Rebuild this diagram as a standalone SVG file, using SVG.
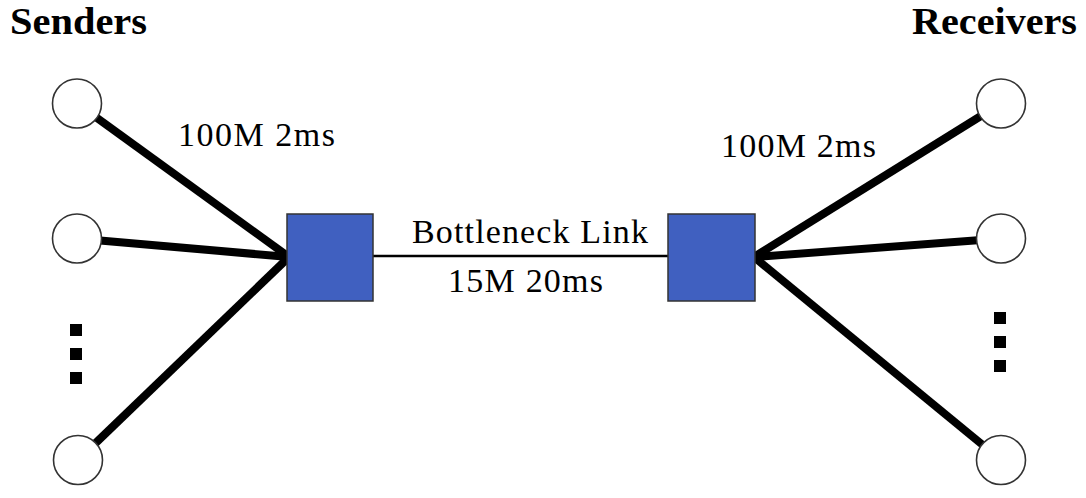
<svg xmlns="http://www.w3.org/2000/svg" width="1086" height="498" viewBox="0 0 1086 498">
  <style>
    .title { font-family: "Liberation Serif", "Times New Roman", serif; font-weight: bold; font-size: 38px; fill: #000; }
    .label { font-family: "Liberation Serif", "Times New Roman", serif; font-size: 34px; fill: #000; }
    .host { fill: #fff; stroke: #333; stroke-width: 1.6; }
    .router { fill: #4060C0; stroke: #333; stroke-width: 1.5; }
    .access { stroke: #000; stroke-width: 8; stroke-linecap: butt; fill: none; }
    .core { stroke: #000; stroke-width: 2.5; fill: none; }
    .dot { fill: #000; }
  </style>
  <rect width="1086" height="498" fill="#fff"/>

  <!-- links -->
  <g id="connectors">
    <line class="access" x1="77" y1="103.5" x2="289" y2="257"/>
    <line class="access" x1="77" y1="238.5" x2="289" y2="257"/>
    <line class="access" x1="78" y1="460" x2="289" y2="257"/>
    <line class="access" x1="754" y1="257" x2="1001" y2="103.5"/>
    <line class="access" x1="754" y1="257" x2="1001" y2="238.5"/>
    <line class="access" x1="754" y1="257" x2="1001" y2="460"/>
    <line class="core" x1="373" y1="256" x2="668" y2="256"/>
  </g>

  <!-- sender hosts -->
  <g id="sender-1"><circle class="host" cx="77" cy="103.5" r="24.5"/></g>
  <g id="sender-2"><circle class="host" cx="77" cy="238.5" r="24.5"/></g>
  <g id="sender-n"><circle class="host" cx="78" cy="460" r="24.5"/></g>
  <g id="sender-ellipsis">
    <rect class="dot" x="70" y="324" width="12" height="12"/>
    <rect class="dot" x="70" y="348" width="12" height="12"/>
    <rect class="dot" x="70" y="372" width="12" height="12"/>
  </g>

  <!-- receiver hosts -->
  <g id="receiver-1"><circle class="host" cx="1001" cy="103.5" r="24.5"/></g>
  <g id="receiver-2"><circle class="host" cx="1001" cy="238.5" r="24.5"/></g>
  <g id="receiver-n"><circle class="host" cx="1001" cy="460" r="24.5"/></g>
  <g id="receiver-ellipsis">
    <rect class="dot" x="994" y="312" width="12" height="12"/>
    <rect class="dot" x="994" y="336" width="12" height="12"/>
    <rect class="dot" x="994" y="360" width="12" height="12"/>
  </g>

  <!-- routers -->
  <g id="router-left"><rect class="router" x="287" y="214" width="86" height="87"/></g>
  <g id="router-right"><rect class="router" x="668" y="214" width="87" height="87"/></g>

  <!-- labels -->
  <g id="labels">
    <text class="title" x="10" y="34" textLength="137" lengthAdjust="spacingAndGlyphs">Senders</text>
    <text class="title" x="912" y="34" textLength="165" lengthAdjust="spacingAndGlyphs">Receivers</text>
    <text class="label" x="178" y="146" textLength="157" lengthAdjust="spacing">100M 2ms</text>
    <text class="label" x="721" y="157" textLength="155" lengthAdjust="spacing">100M 2ms</text>
    <text class="label" x="412" y="243" textLength="236" lengthAdjust="spacing">Bottleneck Link</text>
    <text class="label" x="448" y="292" textLength="155" lengthAdjust="spacing">15M 20ms</text>
  </g>
</svg>
